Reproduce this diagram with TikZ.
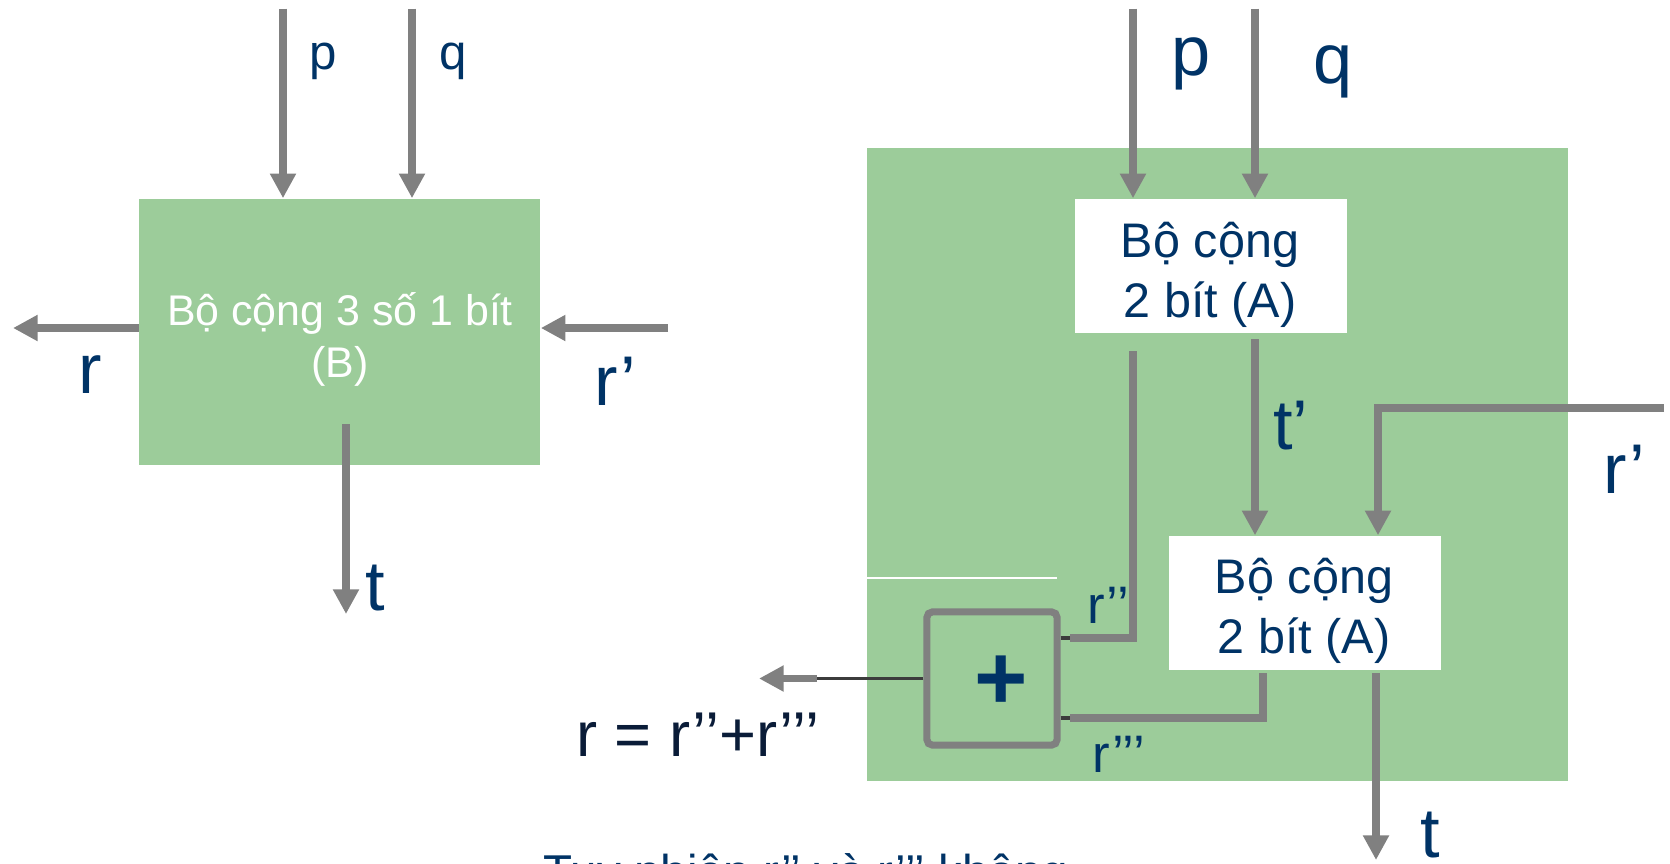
\documentclass[tikz,border=0pt]{standalone}
\usepackage{fontspec}
\setmainfont{Liberation Sans}
\usetikzlibrary{arrows.meta}
\definecolor{gn}{RGB}{156,204,154}
\definecolor{navy}{RGB}{0,51,102}
\definecolor{ink}{RGB}{10,28,56}
\definecolor{wire}{RGB}{128,128,128}
\definecolor{stubc}{RGB}{60,60,60}
\newcommand{\fsz}[2]{\fontsize{#1}{#2}\selectfont}
\begin{document}
\begin{tikzpicture}[x=0.01cm,y=-0.01cm,
  wirel/.style={draw=wire,line width=2.1pt},
  arr/.style={wirel,-{Triangle[width=7pt,length=7pt]}},
  stub/.style={draw=stubc,line width=1pt},
  lbl/.style={text=navy,inner sep=0pt},
  big/.style={lbl,font=\fsz{20}{24}},
  gbox/.style={fill=gn,draw=none,inner sep=0pt},
  abox/.style={fill=white,draw=none,inner sep=0pt,minimum width=2.72cm,minimum height=1.34cm},
  atxt/.style={text=navy,align=center,inner sep=0pt,font=\fsz{13.8}{17.2}},
]
\useasboundingbox (0,0) rectangle (1670,863);
\clip (0,0) rectangle (1670,863);

% ---------- left block ----------
\node[gbox,minimum width=4.005cm,minimum height=2.66cm] (B) at (339.75,332) {};
\node[text=white,align=center,inner sep=0pt,font=\fsz{12.2}{14.8}] (Btxt) at (340,339) {Bộ cộng 3 số 1 bít\\(B)};
\coordinate (pB) at (283,8.5);
\coordinate (qB) at (412,8.5);
\draw[arr] (pB) -- (pB |- B.north);
\draw[arr] (qB) -- (qB |- B.north);
\node[lbl,font=\fsz{14}{16}] (pBl) at (323,61) {p};
\node[lbl,font=\fsz{14}{16}] (qBl) at (453,61) {q};
\coordinate (rB) at (13,328);
\draw[arr] (B.west |- rB) -- (rB);
\node[big] (rBl) at (90,375) {r};
\coordinate (rpB) at (668,328);
\draw[arr] (rpB) -- (B.east |- rpB);
\node[big] (rpBl) at (615,381) {r’};
\coordinate (tB0) at (346,424);
\coordinate (tB1) at (346,614);
\draw[arr] (tB0) -- (tB1);
\node[big] (tBl) at (375,588) {t};

% ---------- right block ----------
\node[gbox,minimum width=7.01cm,minimum height=6.33cm] (G) at (1217.5,464.5) {};
\draw[white,line width=0.5pt] (867,578) -- (1057,578);
\node[abox] (A1) at (1211,266) {};
\node[atxt] (A1t) at (1210,275) {Bộ cộng\\2 bít (A)};
\node[abox] (A2) at (1305,603) {};
\node[atxt] (A2t) at (1304,611) {Bộ cộng\\2 bít (A)};
\node[draw=wire,line width=2pt,rounded corners=1.5pt,minimum width=1.30cm,minimum height=1.33cm,inner sep=0pt] (P) at (992,678.5) {};
\node[text=navy,font=\bfseries\fsz{26}{28},inner sep=0pt] (plus) at (1001,683) {+};

\coordinate (pA) at (1133,8.5);
\coordinate (qA) at (1255,8.5);
\draw[arr] (pA) -- (pA |- A1.north);
\draw[arr] (qA) -- (qA |- A1.north);
\node[big] (pAl) at (1191,64) {p};
\node[big] (qAl) at (1333,72) {q};

\coordinate (r2a) at (1133,351);
\coordinate (r2b) at (1070,638);
\draw[wirel] (r2a) |- (r2b);
\draw[stub] (P.east |- r2b) -- (r2b);
\node[lbl,font=\fsz{15}{18}] (r2l) at (1108,605) {r’’};

\coordinate (tpa) at (1255,339);
\draw[arr] (tpa) -- (tpa |- A2.north);
\node[big] (tpl) at (1291,426) {t’};

\coordinate (rpa) at (1664,408);
\coordinate (rpx) at (1378,408);
\draw[arr] (rpa) -- (rpx) -- (rpx |- A2.north);
\node[big] (rpl) at (1624,469) {r’};

\coordinate (r3a) at (1263,673);
\coordinate (r3b) at (1070,718);
\draw[wirel] (r3a) |- (r3b);
\draw[stub] (P.east |- r3b) -- (r3b);
\node[lbl,font=\fsz{15}{18}] (r3l) at (1119,754) {r’’’};

\coordinate (ta) at (1376,673);
\coordinate (tb) at (1376,860);
\draw[arr] (ta) -- (tb);
\node[big] (tl) at (1430,835) {t};

\coordinate (oa) at (817,678.5);
\coordinate (ob) at (759,678.5);
\draw[stub] (P.west) -- (oa);
\draw[arr] (oa) -- (ob);
\node[text=ink,inner sep=0pt,font=\fsz{18}{20}] (req) at (698,735) {r = r’’+r’’’};

\node[lbl,font=\fsz{13.5}{16},anchor=base west] (note) at (543,888) {Tuy nhiên r’’ và r’’’ không};
\end{tikzpicture}
\end{document}
